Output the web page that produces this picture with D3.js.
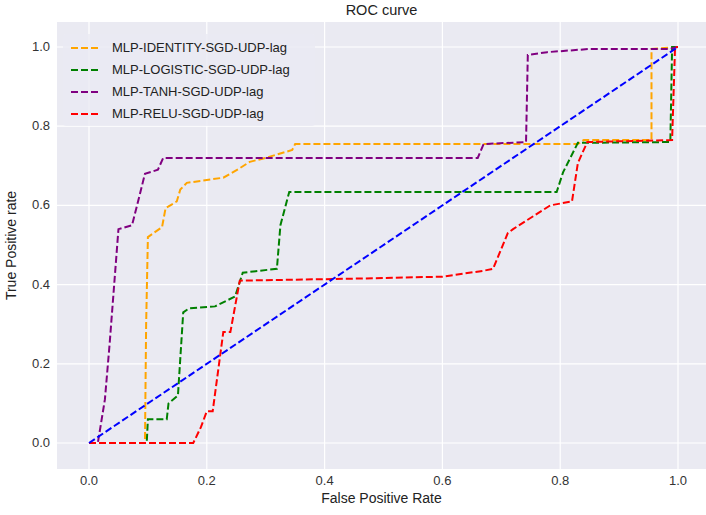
<!DOCTYPE html>
<html><head><meta charset="utf-8">
<script src="https://cdn.jsdelivr.net/npm/d3@7"></script>
<style>body{margin:0;background:#fff;font-family:"Liberation Sans",Arial,sans-serif}</style>
</head><body><svg id="c" width="706" height="515"></svg>
<script>
const seriesNames = ['MLP-IDENTITY-SGD-UDP-lag', 'MLP-LOGISTIC-SGD-UDP-lag', 'MLP-TANH-SGD-UDP-lag', 'MLP-RELU-SGD-UDP-lag'];
const seriesColors = ['orange', 'green', 'purple', 'red'];
const identity = [[0,0],[0.095,0],[0.097,0.3],[0.1,0.52],[0.124,0.545],[0.13,0.593],[0.149,0.61],[0.155,0.64],[0.166,0.657],[0.228,0.67],[0.256,0.694],[0.273,0.71],[0.3,0.72],[0.345,0.74],[0.35,0.755],[0.83,0.755],[0.84,0.765],[0.955,0.765],[0.955,0.995],[1,1]];
const logistic = [[0,0],[0.098,0],[0.1,0.06],[0.132,0.06],[0.135,0.1],[0.151,0.12],[0.16,0.33],[0.17,0.34],[0.214,0.345],[0.248,0.37],[0.261,0.43],[0.319,0.44],[0.325,0.55],[0.34,0.634],[0.794,0.634],[0.805,0.684],[0.83,0.758],[0.987,0.76],[0.99,1],[1,1]];
const tanh = [[0,0],[0.015,0],[0.027,0.11],[0.035,0.25],[0.05,0.54],[0.073,0.55],[0.085,0.62],[0.095,0.68],[0.117,0.69],[0.126,0.72],[0.66,0.72],[0.67,0.755],[0.742,0.76],[0.745,0.98],[0.778,0.987],[0.85,0.995],[0.985,0.995],[1,1]];
const relu = [[0,0],[0.177,0],[0.19,0.04],[0.2,0.08],[0.21,0.08],[0.228,0.28],[0.24,0.28],[0.256,0.41],[0.45,0.415],[0.6,0.42],[0.67,0.435],[0.686,0.44],[0.711,0.53],[0.72,0.54],[0.744,0.563],[0.783,0.6],[0.82,0.61],[0.83,0.707],[0.846,0.76],[0.99,0.765],[0.995,1],[1,1]];
const chance = [[0,0],[1,1]];
const ticks = [0, 0.2, 0.4, 0.6, 0.8, 1.0];

const svg = d3.select('#c');
const L = 57, R = 706, T = 22, B = 469;
const x = d3.scaleLinear().domain([0, 1]).range([89, 678]);
const y = d3.scaleLinear().domain([0, 1]).range([443, 47]);

svg.append('rect').attr('x', L).attr('y', T).attr('width', R - L).attr('height', B - T).attr('fill', '#eaeaf2');

// grid
const g = svg.append('g');
g.selectAll('.gx').data(ticks).enter().append('line')
  .attr('x1', d => x(d)).attr('x2', d => x(d)).attr('y1', T).attr('y2', B)
  .attr('stroke', '#fff').attr('stroke-width', 1.2);
g.selectAll('.gy').data(ticks).enter().append('line')
  .attr('y1', d => y(d)).attr('y2', d => y(d)).attr('x1', L).attr('x2', R)
  .attr('stroke', '#fff').attr('stroke-width', 1.2);

// tick labels
svg.selectAll('.tx').data(ticks).enter().append('text')
  .attr('x', d => x(d)).attr('y', B + 16).attr('text-anchor', 'middle')
  .attr('font-size', 13).attr('fill', '#333').text(d => d.toFixed(1));
svg.selectAll('.ty').data(ticks).enter().append('text')
  .attr('x', L - 7).attr('y', d => y(d) + 4).attr('text-anchor', 'end')
  .attr('font-size', 13).attr('fill', '#333').text(d => d.toFixed(1));

svg.append('text').attr('x', (L + R) / 2).attr('y', 15).attr('text-anchor', 'middle')
  .attr('font-size', 14.5).attr('fill', '#222').text('ROC curve');
svg.append('text').attr('x', (L + R) / 2).attr('y', 503).attr('text-anchor', 'middle')
  .attr('font-size', 14).attr('fill', '#222').text('False Positive Rate');
svg.append('text').attr('transform', `translate(16,${(T + B) / 2}) rotate(-90)`).attr('text-anchor', 'middle')
  .attr('font-size', 14).attr('fill', '#222').text('True Positive rate');

const line = d3.line().x(d => x(d[0])).y(d => y(d[1]));
const curves = [identity, logistic, tanh, relu];
curves.forEach((c, i) => {
  svg.append('path').datum(c).attr('d', line).attr('fill', 'none')
    .attr('stroke', seriesColors[i]).attr('stroke-width', 2).attr('stroke-dasharray', '7,3');
});
svg.append('path').datum(chance).attr('d', line).attr('fill', 'none')
  .attr('stroke', 'blue').attr('stroke-width', 2).attr('stroke-dasharray', '7,3');

// legend
const lg = svg.append('g');
lg.append('rect').attr('x', 63).attr('y', 34).attr('width', 252).attr('height', 92).attr('rx', 3)
  .attr('fill', '#eaeaf2').attr('fill-opacity', 0.8);
seriesNames.forEach((n, i) => {
  const yy = 48 + i * 22;
  lg.append('line').attr('x1', 71).attr('x2', 99).attr('y1', yy).attr('y2', yy)
    .attr('stroke', seriesColors[i]).attr('stroke-width', 2).attr('stroke-dasharray', '7,3');
  lg.append('text').attr('x', 112).attr('y', yy + 4).attr('font-size', 13).attr('fill', '#222').text(n);
});
</script></body></html>
